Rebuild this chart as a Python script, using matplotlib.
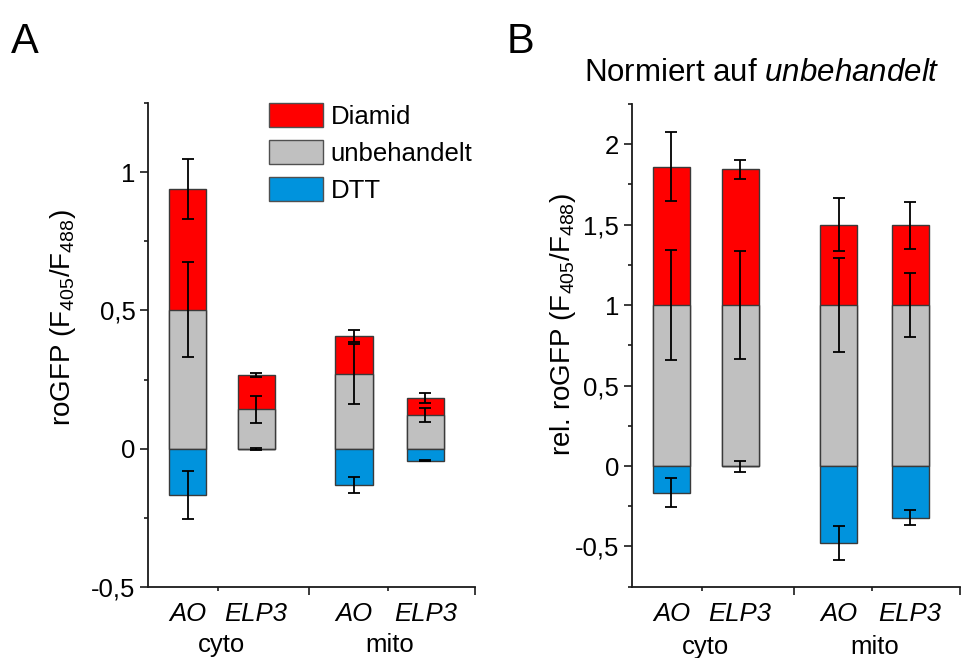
import matplotlib
matplotlib.use("Agg")
import matplotlib.pyplot as plt
from matplotlib.patches import Patch
from matplotlib.ticker import MultipleLocator, FixedLocator, FuncFormatter

plt.rcParams['font.family'] = ['Liberation Sans', 'DejaVu Sans']
plt.rcParams['mathtext.fontset'] = 'custom'
plt.rcParams['mathtext.rm'] = 'Liberation Sans'
plt.rcParams['mathtext.it'] = 'Liberation Sans:italic'

# Categories
genes = ['AO', 'ELP3', 'AO', 'ELP3']
compartments = ['cyto', 'mito']
x_pos = [0.0, 0.98, 2.38, 3.40]

# A: absolute roGFP ratio
a_diamid = [0.938, 0.266, 0.407, 0.184]
a_diamid_err = [0.108, 0.008, 0.022, 0.017]
a_untreated = [0.502, 0.142, 0.271, 0.121]
a_untreated_err = [0.172, 0.048, 0.109, 0.025]
a_dtt = [-0.167, -0.002, -0.132, -0.043]
a_dtt_err = [0.088, 0.003, 0.028, 0.003]

# B: normalised to untreated
b_diamid = [1.860, 1.843, 1.499, 1.495]
b_diamid_err = [0.215, 0.058, 0.164, 0.144]
b_untreated = [1.0, 1.0, 1.0, 1.0]
b_untreated_err = [0.343, 0.337, 0.293, 0.197]
b_dtt = [-0.165, -0.002, -0.478, -0.320]
b_dtt_err = [0.088, 0.033, 0.105, 0.045]

RED = '#ff0000'
GREY = '#c0c0c0'
BLUE = '#0093dd'
EDGE = '#3a3a3a'
AXC = '#1a1a1a'
FS = 18.5

W, H = 962, 658
fig = plt.figure(figsize=(W / 100, H / 100), dpi=100)


def px_axes(left, top, right, bottom):
    return fig.add_axes([left / W, 1 - bottom / H, (right - left) / W, (bottom - top) / H])


def comma(v, _):
    s = '%g' % v
    return s.replace('.', ',')


def draw_panel(ax, diamid, d_err, untr, u_err, dtt, t_err, ylim, gene_off, group_off):
    bw = 0.53
    for vals, col in ((diamid, RED), (untr, GREY), (dtt, BLUE)):
        ax.bar(x_pos, vals, width=bw, color=col, edgecolor=EDGE, linewidth=1.0, zorder=2)
    for vals, errs in ((diamid, d_err), (untr, u_err), (dtt, t_err)):
        ax.errorbar(x_pos, vals, yerr=errs, fmt='none', ecolor='black',
                    elinewidth=1.3, capsize=4.2, capthick=1.3, zorder=3)
    ax.set_xlim(-0.565, 4.11)
    ax.set_ylim(*ylim)
    for s in ('top', 'right'):
        ax.spines[s].set_visible(False)
    for s in ('left', 'bottom'):
        ax.spines[s].set_color(AXC)
        ax.spines[s].set_linewidth(1.3)
    ax.yaxis.set_major_locator(MultipleLocator(0.5))
    ax.yaxis.set_minor_locator(MultipleLocator(0.25))
    ax.yaxis.set_major_formatter(FuncFormatter(comma))
    ax.xaxis.set_major_locator(FixedLocator([1.74, 4.105]))
    ax.xaxis.set_minor_locator(FixedLocator([0.43, 2.86]))
    ax.set_xticklabels([])
    ax.tick_params(axis='both', which='major', direction='out', length=6, width=1.2,
                   color=AXC, labelsize=FS, pad=3)
    ax.tick_params(axis='both', which='minor', direction='out', length=3, width=1.2, color=AXC)
    for x, g in zip(x_pos, genes):
        ax.annotate(g, xy=(x, 0), xycoords=('data', 'axes fraction'),
                    xytext=(0, -gene_off), textcoords='offset points',
                    ha='center', va='center', fontsize=FS, style='italic')
    for i, c in enumerate(compartments):
        xc = (x_pos[2 * i] + x_pos[2 * i + 1]) / 2
        ax.annotate(c, xy=(xc, 0), xycoords=('data', 'axes fraction'),
                    xytext=(0, -group_off), textcoords='offset points',
                    ha='center', va='center', fontsize=FS)


axA = px_axes(148, 103, 475, 587)
draw_panel(axA, a_diamid, a_diamid_err, a_untreated, a_untreated_err, a_dtt, a_dtt_err,
           (-0.5, 1.25), 19.5, 41.5)

axB = px_axes(631.7, 104, 960, 586.7)
draw_panel(axB, b_diamid, b_diamid_err, b_untreated, b_untreated_err, b_dtt, b_dtt_err,
           (-0.75, 2.25), 19.5, 43.5)

fig.text(63 / W, 1 - 318 / H, r'roGFP (F$_{405}$/F$_{488}$)', rotation=90,
         ha='center', va='center', fontsize=20)
fig.text(563 / W, 1 - 324 / H, r'rel. roGFP (F$_{405}$/F$_{488}$)', rotation=90,
         ha='center', va='center', fontsize=20)

fig.text(584 / W, 1 - 81 / H, r'Normiert auf $\it{unbehandelt}$', ha='left',
         va='baseline', fontsize=22.5)

fig.text(11 / W, 1 - 53 / H, 'A', fontsize=30, ha='left', va='baseline')
fig.text(507 / W, 1 - 53 / H, 'B', fontsize=30, ha='left', va='baseline')

handles = [Patch(facecolor=RED, edgecolor='#505050', linewidth=1.0, label='Diamid'),
           Patch(facecolor=GREY, edgecolor='#505050', linewidth=1.0, label='unbehandelt'),
           Patch(facecolor=BLUE, edgecolor='#505050', linewidth=1.0, label='DTT')]
axA.legend(handles=handles, loc='upper left', bbox_to_anchor=(269 / W, 1 - 103 / H),
           bbox_transform=fig.transFigure, frameon=False, fontsize=FS,
           borderpad=0, borderaxespad=0, handlelength=2.1, handleheight=1.05,
           labelspacing=0.45, handletextpad=0.3)

fig.savefig('out.png', dpi=100)
